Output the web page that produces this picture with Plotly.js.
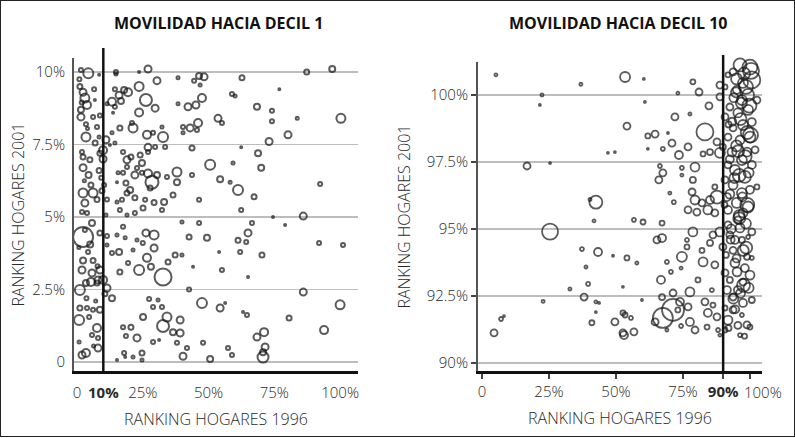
<!DOCTYPE html>
<html>
<head>
<meta charset="utf-8">
<script src="https://cdn.plot.ly/plotly-3.0.1.min.js"></script>
<style>
html,body{margin:0;padding:0;background:#fff;}
#wrap{position:relative;width:795px;height:438px;}
#chart{width:795px;height:438px;}
#frame{position:absolute;left:0;top:0;width:795px;height:437px;border:1.5px solid #222;box-sizing:border-box;pointer-events:none;}
</style>
</head>
<body>
<div id="wrap"><div id="chart"></div><div id="frame"></div></div>
<script>
// ---------- Panel 1: movilidad hacia decil 1 ----------
const titleLeft = "MOVILIDAD HACIA DECIL 1";
const titleRight = "MOVILIDAD HACIA DECIL 10";
const xAxisTitle = "RANKING HOGARES 1996";
const yAxisTitle = "RANKING HOGARES 2001";
const cutLeft = 10;
const cutRight = 90;

const leftXTicks = [0, 10, 25, 50, 75, 100];
const leftXText = ["0", "<b>10%</b>", "25%", "50%", "75%", "100%"];
const leftYTicks = [0, 2.5, 5, 7.5, 10];
const leftYText = ["0", "2.5%", "5%", "7.5%", "10%"];
const rightXTicks = [0, 25, 50, 75, 90, 100];
const rightXText = ["0", "25%", "50%", "75%", "<b>90%</b>", ""];
const rightLastTickText = "100%";   // drawn just right of its tick so it does not collide with 90%
const rightYTicks = [90, 92.5, 95, 97.5, 100];
const rightYText = ["90%", "92.5%", "95%", "97.5%", "100%"];

// ranking 1996 (x), ranking 2001 (y), circle size (households)
const xLeft = [1.5,4.3,8.4,14.8,14.8,23.6,27,30.4,38.4,44.5,46.4,48.3,46.8,62.7,76.9,87.3,97,100.3,
1.1,2.3,3.0,3.8,1.5,1.5,6.5,6.8,6.1,8.7,3.4,7.6,3.4,8.4,1.9,2.3,4.9,2.3,8.7,8.4,9.9,9.9,11,2.3,6.1,5.3,3.0,3.8,1.9,7.6,10.3,11.4,11,
11.4,13.3,14.4,16,17.9,19.4,16.7,14.4,13.7,23.6,26.2,23.6,29.7,38.4,42.2,45.2,47.5,58.9,60.1,53.6,55.1,46,43,40.3,40.3,45.6,68.4,74.1,74.1,83.7,80.2,73,62.4,68.8,70,92.4,
16.3,13.3,21.3,20.9,26.6,28.9,32.7,32.3,14.4,12.5,17.5,19,20.5,24,24.7,22.8,27,27,29.7,33.5,43.7,19,15.6,17.5,15.2,18.6,20.2,22,24.7,27,28.5,30.4,27.8,34.2,38,38,43.7,50.6,54.4,58.2,61.2,67.3,59.3,
15.2,17.1,19,22,25.9,29.3,33.1,32.3,36.5,46.4,62.4,74.5,86,25.1,22,16.3,19,
2.3,3.0,5.7,8.7,11.4,11.4,4.2,2.3,6.1,1.9,5.7,8.7,8,1.1,3.4,5.3,7.6,9.9,11.4,13.3,1.1,3.8,6.1,8.7,0.8,4.6,7.6,5.7,8,1.9,3.4,8,0.8,
16.3,19.4,18.3,17.5,21.3,22.8,25,26.2,29.3,29.3,26.6,23.6,28.1,32.7,34.6,37.3,39.9,42.6,49.4,39.9,46.4,54,55.1,61.2,62,64.3,65,66.5,70.3,65,79.1,92,101.1,44.1,42.6,86,100,47.5,54.4,56.3,63.1,64.6,80.6,93.9,
34.2,39.2,32.7,36.5,39.2,38,28.9,30.8,32.3,27.4,25.1,20.5,17.5,18.6,22.8,28.9,31.2,41.8,40.3,47.9,50.6,57.4,58.9,68.4,71.1,71.5,70.7,70.7,24.7,24.7,17.9,18.3,15.2,21.3,15.2,13.3,16,
0.9,4.0,6.9,9.2,2.8,5.0,7.8,10.6,0.7,3.6,6.3,9.5,1.8,4.4,7.1,10.1];
const yLeft = [10.07,9.95,9.9,10.0,9.93,10.0,10.1,9.7,9.8,9.7,9.86,9.83,9.55,9.8,9.4,10.0,10.1,8.4,
9.5,9.3,9.1,8.86,8.7,8.45,9.4,9.03,8.45,8.5,8.2,8.1,7.76,7.76,7.24,7.07,6.97,6.7,7.2,6.6,7.3,7.0,7.66,5.83,5.83,6.1,5.48,5.14,5.17,5.6,6.1,5.6,5.07,
8.9,8.97,9.4,9.2,9.38,9.3,9.0,8.8,8.59,9.5,9.03,8.6,8.75,8.9,8.8,8.86,9.1,9.24,9.17,8.4,8.24,8.24,8.07,8.1,7.9,8.0,8.8,8.66,8.3,8.4,7.83,7.6,7.4,7.2,6.7,6.14,
8.07,7.9,8.07,8.24,7.83,7.9,7.76,8.1,7.55,7.48,7.24,6.97,7.07,7.14,6.86,6.69,7.4,7.24,7.41,7.41,7.38,6.72,6.52,6.52,6.2,6.17,5.93,6.45,6.52,6.5,6.2,6.45,6.0,6.38,6.55,6.2,6.45,6.8,6.3,6.2,5.93,5.7,6.86,
5.52,5.59,5.83,5.66,5.59,5.5,5.52,5.24,5.76,5.59,5.24,5.0,5.03,5.31,5.14,5.24,5.07,
4.31,4.55,4.79,4.45,4.34,4.03,3.79,3.5,3.5,3.17,3.07,3.17,2.83,2.48,2.72,2.76,2.72,2.83,2.55,2.2,1.86,1.86,1.8,1.8,1.45,1.55,1.17,0.93,0.83,0.24,0.31,0.48,0.69,
3.1,3.41,4.28,4.66,3.86,4.21,4.1,4.45,4.38,3.93,3.59,3.17,3.28,2.93,3.45,3.69,3.69,4.31,4.28,4.83,4.79,3.79,3.17,4.2,3.79,4.14,4.45,4.79,3.69,2.93,4.72,4.1,4.03,3.28,2.5,2.41,1.97,2.03,1.86,2.03,1.72,1.62,1.52,1.1,
1.55,1.45,1.24,1.03,1.0,0.66,1.9,2.14,1.9,2.17,1.55,1.2,1.2,0.9,0.83,0.69,0.76,0.48,0.2,0.66,0.1,0.48,0.24,0.86,1.03,0.52,0.34,0.17,0.07,0.31,0.31,0.17,0.07,0.17,4.38,3.76,3.79,
9.75,8.05,7.55,6.35,6.25,4.05,3.3,2.35,3.95,2.2,0.55,5.9,8.95,6.45,2.1,1.45];
const sLeft = [4,10,2,4,3,2,7,7,3,4,6,7,3,5,2,5,6,9,
5,7,9,8,6,7,4,2,4,4,4,4,9,3,4,5,5,7,5,5,8,7,7,9,9,5,7,4,4,5,4,4,3,
3,8,4,7,6,8,6,4,2,9,12,8,7,3,7,7,8,4,3,7,4,8,7,4,3,4,6,4,4,3,7,7,2,6,6,4,
5,3,9,4,8,4,10,3,3,2,4,7,5,5,6,4,7,4,4,4,5,4,3,4,2,5,6,7,4,8,13,6,5,4,9,6,4,10,6,3,10,5,3,
3,4,5,5,4,5,6,4,5,4,4,2,7,5,4,4,3,
20,4,6,5,4,3,4,6,5,7,7,7,7,10,6,8,5,8,7,6,5,4,4,6,10,4,8,4,4,7,8,7,3,
5,4,3,4,3,3,4,7,9,7,8,10,6,17,5,5,3,5,6,3,4,2,4,5,4,4,7,4,5,2,2,4,4,2,4,7,9,10,7,2,2,4,5,
8,9,7,12,6,7,4,4,3,4,4,6,5,4,4,7,4,2,4,7,4,6,4,4,7,8,7,6,11,3,5,4,2,2,3,3,4,
6,4,3,5,4,3,6,4,5,3,4,3,5,4,6,3];

// ---------- Panel 2: movilidad hacia decil 10 ----------
const xRight = [5.2,22.4,21.6,36.9,53.4,60.4,60.8,16.8,25.4,47,49.6,54.1,42.5,40.3,25.4,41.8,37.3,43.3,48.9,38.8,39.6,32.8,38.1,22.8,42.5,43.7,42.5,7.1,8.2,4.5,41,49.6,52.6,52.6,52.6,54.1,57.8,53.4,55.6,56.7,53,59.7,
65.3,67.2,67.2,60.1,56.7,69,70.5,74.6,74.3,66.8,67.2,64.6,67.5,71.3,69,73.9,77.6,76.9,74.3,77.6,79.5,78.7,76.5,82.5,80.6,82.1,83.2,84.3,84,86.2,85.1,86.9,85.8,86.2,87.7,88.1,88.8,88.8,89.9,90.7,91.4,90.7,90.7,91.8,92.5,93.7,94.4,93.7,95.5,97,97.4,97.4,98.9,100,99.3,100.7,98.9,100,96.3,97,
78.7,81,73.1,84.7,72,77.6,83.2,61.9,64.6,69.4,70.9,76.9,61.9,67.5,73.5,82.5,85.1,87.7,66.4,67.5,66,74.6,79.5,78.7,70.1,71.6,78.4,79.5,82.1,85.1,84.3,80.2,86.9,87.7,88.8,74.6,76.9,76.5,71.3,73.1,
96.3,100,100.7,97.4,93.7,91.8,95.1,99.3,97,90.7,88.8,88.8,92.5,99.3,95.5,90.7,100.7,97.4,93.7,91.8,100,96.3,89.9,93.3,98.9,97,100.7,91.8,94.4,98.1,90.7,93.7,100,97,91.4,95.1,99.3,91.8,97.4,86.9,102.6,101.9,102.6,91.8,96.3,100.7,94.4,91,98.1,92.5,95.5,100.7,93.7,
95,98.5,94,96.5,92,99,95,92.5,96,99.5,92.5,96,98.5,90.5,93,97.5,95,99.5,96.5,94.5,92,95.5,98,
97.8,94.8,99.8,96.8,93.4,98.2,95.6,100.2,97.2,94.2,99.0,96.0,92.8,98.6,95.2,93.8,97.6,100.4];
const yRight = [100.75,100.0,99.63,100.4,100.67,100.6,99.74,97.35,97.46,97.84,97.87,98.84,96.0,96.1,94.9,95.3,94.25,94.14,94.0,93.58,92.95,92.76,92.46,92.3,92.28,92.24,91.9,91.64,91.75,91.12,91.5,91.53,91.87,91.12,92.84,93.92,93.73,91.79,91.68,91.16,91.04,92.35,
94.59,94.66,95.22,95.26,95.34,93.77,93.4,93.96,93.54,93.1,92.46,91.53,91.68,91.98,91.23,92.28,92.65,92.09,91.38,91.53,91.23,94.89,94.59,93.77,93.1,94.2,92.28,91.87,91.34,94.78,94.48,93.66,92.72,92.16,91.72,91.23,91.04,94.89,94.33,93.36,92.72,92.05,91.23,91.6,94.78,94.2,93.73,92.46,95.34,94.59,92.24,93.02,93.96,93.28,94.7,93.92,91.42,91.34,91.04,91.79,
100.49,100.11,100.07,99.59,99.18,99.29,98.62,98.47,98.54,98.58,98.2,98.06,97.99,97.99,97.76,97.8,97.87,98.25,97.35,97.09,96.83,97.28,97.31,96.83,96.34,96.0,96.38,96.08,95.97,96.08,95.71,95.63,96.57,96.19,97.84,97.01,95.71,94.33,92.61,91.98,
101.12,101.04,100.56,100.45,100.86,100.75,100.19,100.0,99.81,100.3,100.37,99.93,99.55,99.44,99.33,99.18,98.99,98.88,98.77,98.43,98.43,98.32,98.06,97.87,97.87,97.57,97.39,97.39,97.2,96.94,96.83,96.64,96.46,96.34,96.19,95.97,95.82,95.71,95.6,95.6,99.81,97.95,96.57,95.15,95.04,94.89,94.59,94.03,93.54,93.1,92.72,92.35,91.98,
100.6,100.3,99.9,99.1,98.9,98.6,98.1,97.6,97.0,97.1,96.3,95.4,95.2,95.9,95.0,94.2,93.9,92.8,92.6,92.0,91.3,91.4,91.0,
100.8,100.1,99.6,99.7,99.0,97.7,97.9,98.5,96.2,96.9,95.9,95.5,94.6,94.3,93.4,92.4,92.9,100.9];
const sRight = [3,3,2,3,10,2,2,7,2,2,2,7,13,3,16,3,4,8,2,3,4,3,7,3,3,2,2,4,2,7,5,7,5,7,2,5,3,5,4,7,8,2,
7,8,5,5,4,4,4,10,3,8,6,7,20,22,3,8,9,7,4,8,7,9,4,9,5,5,7,8,5,7,6,7,4,5,7,4,3,9,7,7,8,5,5,9,7,7,9,7,7,6,8,7,6,9,4,4,7,5,4,4,
5,7,3,7,7,3,17,5,7,2,7,7,2,4,8,5,6,7,4,7,7,4,9,6,3,4,7,9,7,8,9,7,5,13,10,3,7,5,7,5,
13,15,17,10,7,5,8,12,10,5,7,7,7,10,9,7,8,10,7,7,11,9,6,9,9,10,8,7,10,12,7,9,8,10,8,10,11,8,9,7,7,7,5,7,9,7,8,6,8,6,8,6,7,
11,14,9,12,6,13,11,8,13,10,9,12,10,6,9,11,8,10,9,8,6,7,5,
12,10,14,11,8,13,12,15,9,10,14,11,8,12,9,10,13,16];

const ink = '#151515';
const tickFont = {family: 'Open Sans, sans-serif', size: 15, color: '#2a2a2a', weight: 300};
const titleFont = {family: 'Open Sans, sans-serif', size: 16, color: '#2a2a2a', weight: 300};

const traces = [
  {type: 'scatter', mode: 'markers', x: xLeft, y: yLeft, xaxis: 'x', yaxis: 'y', cliponaxis: false,
   marker: {symbol: 'circle-open', size: sLeft, color: ink, line: {width: 2, color: ink}}, hoverinfo: 'x+y', showlegend: false},
  {type: 'scatter', mode: 'markers', x: xRight, y: yRight, xaxis: 'x2', yaxis: 'y2', cliponaxis: false,
   marker: {symbol: 'circle-open', size: sRight, color: ink, line: {width: 1.8, color: ink}}, hoverinfo: 'x+y', showlegend: false}
];

const W = 795, H = 438;
const px = v => v / W, py = v => (H - v) / H;

const layout = {
  width: W, height: H,
  margin: {l: 0, r: 0, t: 0, b: 0},
  paper_bgcolor: '#fff', plot_bgcolor: '#fff',
  showlegend: false,
  xaxis: {domain: [px(74), px(358)], range: [-1.14, 106.8], anchor: 'y',
    tickvals: leftXTicks, ticktext: leftXText, tickfont: tickFont, tickangle: 0,
    ticks: 'outside', ticklen: 6, tickcolor: 'rgba(0,0,0,0)',
    showgrid: false, zeroline: false, showline: true, linecolor: '#111', linewidth: 2.5,
    title: {text: xAxisTitle, font: titleFont, standoff: 14}},
  yaxis: {domain: [py(371), py(58)], range: [-0.31, 10.48], anchor: 'x',
    tickvals: leftYTicks, ticktext: leftYText, tickfont: tickFont,
    ticks: 'outside', ticklen: 4, tickcolor: 'rgba(0,0,0,0)',
    showgrid: true, gridcolor: '#bdbdbd', gridwidth: 1.5, zeroline: false,
    showline: true, linecolor: '#555', linewidth: 2,
    title: {text: yAxisTitle, font: titleFont, standoff: 4}},
  xaxis2: {domain: [px(478), px(762)], range: [-1.49, 104.5], anchor: 'y2',
    tickvals: rightXTicks, ticktext: rightXText, tickfont: tickFont, tickangle: 0,
    ticks: 'outside', ticklen: 5, tickcolor: '#444', tickwidth: 1.5,
    showgrid: false, zeroline: false, showline: true, linecolor: '#111', linewidth: 2.5,
    title: {text: xAxisTitle, font: titleFont, standoff: 14}},
  yaxis2: {domain: [py(371), py(62)], range: [89.70, 101.23], anchor: 'x2',
    tickvals: rightYTicks, ticktext: rightYText, tickfont: tickFont,
    ticks: 'outside', ticklen: 5, tickcolor: '#444', tickwidth: 1.5,
    showgrid: true, gridcolor: '#bdbdbd', gridwidth: 1.5, zeroline: false,
    showline: true, linecolor: '#555', linewidth: 2,
    title: {text: yAxisTitle, font: titleFont, standoff: 12}},
  shapes: [
    {type: 'line', xref: 'x', yref: 'paper', x0: cutLeft, x1: cutLeft, y0: py(371), y1: py(48),
     line: {color: '#111', width: 2.5}, layer: 'above'},
    {type: 'line', xref: 'x2', yref: 'paper', x0: cutRight, x1: cutRight, y0: py(371), y1: py(55),
     line: {color: '#111', width: 2.5}, layer: 'above'}
  ],
  annotations: [
    {text: '<b>' + titleLeft + '</b>', xref: 'paper', yref: 'paper', x: px(218), y: py(23),
     xanchor: 'center', yanchor: 'middle', showarrow: false,
     font: {family: 'Open Sans, sans-serif', size: 16, color: '#111'}},
    {text: '<b>' + titleRight + '</b>', xref: 'paper', yref: 'paper', x: px(618), y: py(23),
     xanchor: 'center', yanchor: 'middle', showarrow: false,
     font: {family: 'Open Sans, sans-serif', size: 16, color: '#111'}},
    {text: rightLastTickText, xref: 'x2', yref: 'paper', x: rightXTicks[rightXTicks.length - 1], y: py(392),
     xanchor: 'left', yanchor: 'middle', xshift: -8, showarrow: false, font: tickFont}
  ]
};

Plotly.newPlot('chart', traces, layout, {displayModeBar: false, staticPlot: true});
</script>
</body>
</html>
